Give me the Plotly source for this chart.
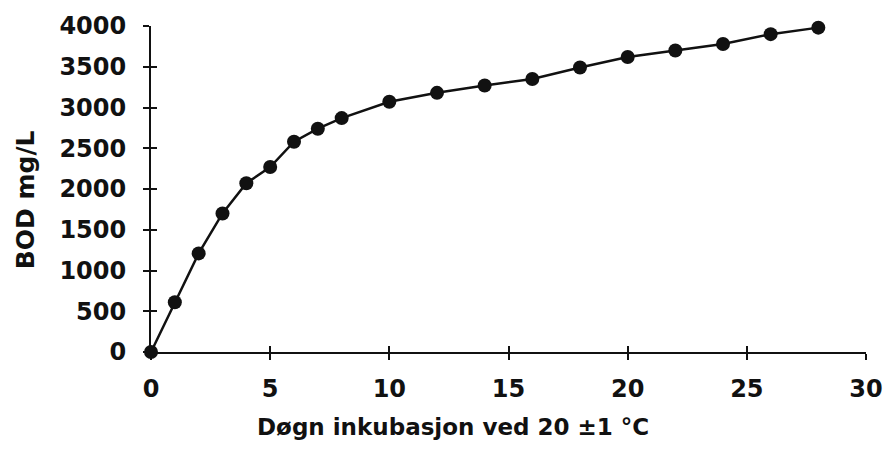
"""BOD-kurve: oksygenforbruk over døgn inkubasjon ved 20 °C."""

import plotly.graph_objects as go

DAYS = [0, 1, 2, 3, 4, 5, 6, 7, 8, 10, 12, 14, 16, 18, 20, 22, 24, 26, 28]
BOD = [0, 610, 1210, 1700, 2070, 2270, 2580, 2740, 2870, 3070, 3180,
       3270, 3350, 3490, 3620, 3700, 3780, 3900, 3980]

X_TICKS = [0, 5, 10, 15, 20, 25, 30]
Y_TICKS = [0, 500, 1000, 1500, 2000, 2500, 3000, 3500, 4000]

X_TITLE = "Døgn inkubasjon ved 20 ±1 °C"
Y_TITLE = "BOD mg/L"

FONT = "DejaVu Sans"
INK = "#111111"

fig = go.Figure()

fig.add_trace(go.Scatter(
    x=DAYS, y=BOD,
    mode="lines+markers",
    line=dict(color=INK, width=2.5),
    marker=dict(size=14, color=INK),
    cliponaxis=False,
    showlegend=False,
))

# usynlig spor slik at de overlagte aksene (innvendige tick-merker) tegnes
fig.add_trace(go.Scatter(
    x=[DAYS[0]], y=[BOD[0]], xaxis="x2", yaxis="y2",
    mode="markers", marker=dict(opacity=0), showlegend=False, hoverinfo="skip",
))

axis_common = dict(
    showgrid=False, zeroline=False, showline=True,
    linecolor=INK, linewidth=2, tickcolor=INK, tickwidth=1.5, ticklen=6,
)
tickfont = dict(family=FONT, size=24, color=INK, weight="bold")

fig.update_layout(
    width=895, height=449,
    margin=dict(l=151, r=19, t=26, b=97),
    paper_bgcolor="white", plot_bgcolor="white",
    xaxis=dict(range=[0, 30], tickvals=X_TICKS, ticks="outside",
               tickfont=tickfont, ticklabelstandoff=8, **axis_common),
    yaxis=dict(range=[0, 4000], tickvals=Y_TICKS, ticks="outside",
               tickfont=tickfont, ticklabelstandoff=12, **axis_common),
    xaxis2=dict(range=[0, 30], tickvals=X_TICKS, ticks="inside", overlaying="x",
                anchor="y2", showticklabels=False, **axis_common),
    yaxis2=dict(range=[0, 4000], tickvals=Y_TICKS, ticks="inside", overlaying="y",
                anchor="x2", side="left", showticklabels=False, **axis_common),
    annotations=[
        dict(text=f"<b>{X_TITLE}</b>", xref="paper", yref="paper",
             x=0.422, y=-0.23, xanchor="center", yanchor="middle", showarrow=False,
             font=dict(family=FONT, size=23, color=INK)),
        dict(text=f"<b>{Y_TITLE}</b>", xref="paper", yref="paper",
             x=-0.176, y=0.466, xanchor="center", yanchor="middle", showarrow=False,
             textangle=-90, font=dict(family=FONT, size=25, color=INK)),
    ],
)

fig.write_html(
    "out.html",
    config={"displayModeBar": False},
    post_script="document.body.style.margin='0';",
)
